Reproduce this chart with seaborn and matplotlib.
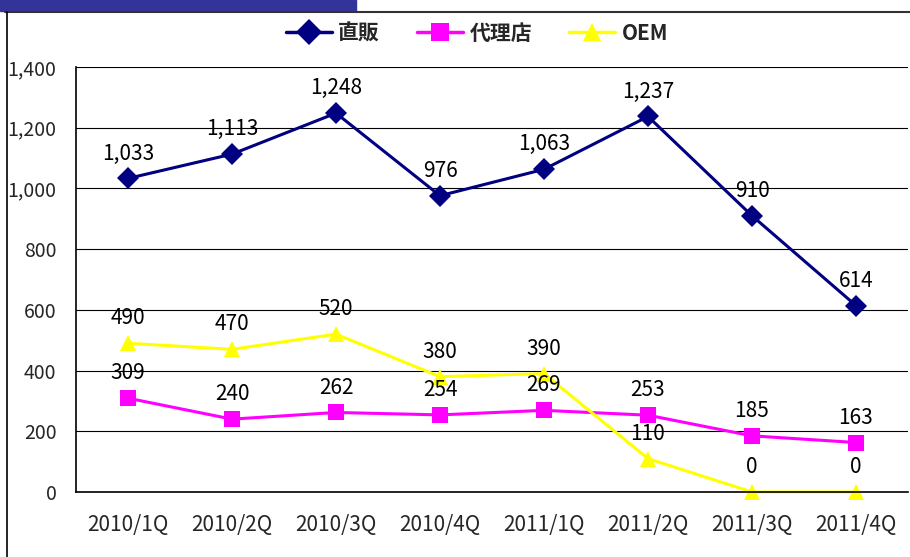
import matplotlib
matplotlib.use("Agg")
import matplotlib.pyplot as plt
import matplotlib.lines as mlines
import matplotlib.patches as mpatches
import pandas as pd
import seaborn as sns

# データ
quarters = ["2010/1Q", "2010/2Q", "2010/3Q", "2010/4Q",
            "2011/1Q", "2011/2Q", "2011/3Q", "2011/4Q"]
direct = [1033, 1113, 1248, 976, 1063, 1237, 910, 614]
agency = [309, 240, 262, 254, 269, 253, 185, 163]
oem = [490, 470, 520, 380, 390, 110, 0, 0]

series_names = ["直販", "代理店", "OEM"]
colors = ["#000080", "#FF00FF", "#FFFF00"]
markers = ["D", "s", "^"]

df = pd.DataFrame({
    "idx": list(range(len(quarters))) * 3,
    "value": direct + agency + oem,
    "series": [series_names[0]] * 8 + [series_names[1]] * 8 + [series_names[2]] * 8,
})

sns.set_theme(style="white")
plt.rcParams["font.family"] = ["Noto Sans CJK JP", "DejaVu Sans"]

fig = plt.figure(figsize=(9.1, 5.57), dpi=100)
ax = fig.add_axes([76 / 910, 1 - 492 / 557, 832 / 910, 425 / 557])

sns.lineplot(data=df, x="idx", y="value", hue="series", style="series",
             palette=colors, markers=markers, dashes=False, markersize=11,
             markeredgewidth=0, linewidth=2.2, sort=False, legend=False, ax=ax)
for ln in ax.lines:
    ln.set_clip_on(False)

# データラベル
for vals in [direct, agency, oem]:
    for i, v in enumerate(vals):
        ax.annotate(f"{v:,}", (i, v), xytext=(0, 10), textcoords="offset points",
                    ha="center", va="bottom", fontsize=15, color="black")

ax.set_xlim(-0.5, len(quarters) - 0.5)
ax.set_ylim(0, 1400)
ax.set_yticks(range(0, 1401, 200))
ax.set_yticklabels([f"{t:,}" for t in range(0, 1401, 200)], fontsize=14)
ax.set_xticks(range(len(quarters)))
ax.set_xticklabels(quarters, fontsize=15)
ax.set_xticks([i + 0.5 for i in range(-1, len(quarters))], minor=True)
ax.tick_params(axis="x", which="major", length=0, pad=16)
ax.tick_params(axis="x", which="minor", length=5, width=1, color="black", direction="in")
ax.tick_params(axis="y", length=0, pad=14)
ax.yaxis.grid(True, color="black", linewidth=0.8)
ax.set_xlabel("")
ax.set_ylabel("")
for s in ["top", "right"]:
    ax.spines[s].set_visible(False)
for s in ["left", "bottom"]:
    ax.spines[s].set_color("black")
    ax.spines[s].set_linewidth(1.2)

# 凡例
handles = [mlines.Line2D([], [], color=c, marker=m, markersize=13, markeredgewidth=0,
                         linewidth=2.5, label=n)
           for c, m, n in zip(colors, markers, series_names)]
fig.legend(handles=handles, loc="center", bbox_to_anchor=(477 / 910, 1 - 33 / 557),
           ncol=3, frameon=False, prop={"family": ["Noto Sans CJK JP"], "size": 15,
                                        "weight": "bold"},
           handlelength=2.2, columnspacing=1.8, handletextpad=0.3)

# 上部の帯と枠
fig.patches.append(mpatches.Rectangle((0, 1 - 11 / 557), 356 / 910, 11 / 557,
                                      transform=fig.transFigure, color="#333399"))
fig.lines.append(mlines.Line2D([5 / 910, 1], [1 - 12 / 557] * 2,
                               transform=fig.transFigure, color="#333333", linewidth=1.5))
fig.lines.append(mlines.Line2D([7 / 910] * 2, [0, 1 - 12 / 557],
                               transform=fig.transFigure, color="black", linewidth=1.2))

fig.savefig("out.png", dpi=100)
